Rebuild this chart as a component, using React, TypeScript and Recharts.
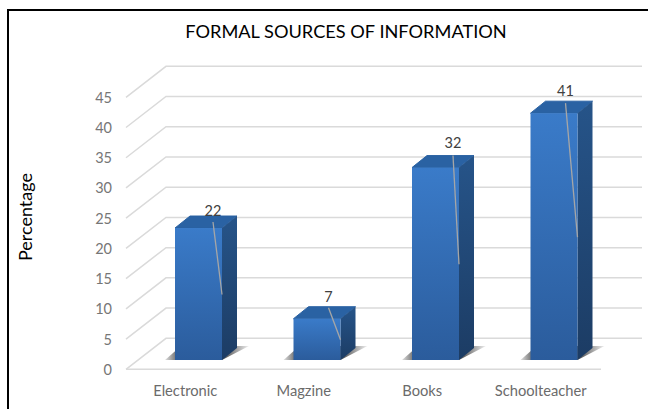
import { BarChart, Bar, XAxis, YAxis, CartesianGrid, LabelList } from 'recharts';

const categories = ['Electronic', 'Magzine', 'Books', 'Schoolteacher'];
const percentages = [22, 7, 32, 41];
const yTicks = [0, 5, 10, 15, 20, 25, 30, 35, 40, 45];

const chartData = categories.map((name, i) => ({ name, value: percentages[i] }));

const FONT = 'Lato, "Open Sans", sans-serif';
const DEPTH_X = 15;
const DEPTH_Y = 12;
// hand placed data labels, relative to the bar's top left corner
const LABEL_X = [38, 35, 41, 35];
const LABEL_Y = [-18, -22, -25, -23];
const LEADER_Y = [-6, -11, -12, -10];

function GridLine({ y1, x1, x2 }: any) {
  // wall line plus the slanted piece along the side wall
  const front = y1 + 8.3;
  const back = y1 - 22.7;
  return (
    <g>
      <path d={`M${x1 - 13} ${front} L${x1 + 27} ${back} L${x2 + 29} ${back}`} fill="none" stroke="#dadada" strokeWidth={1.5} />
      {y1 > 350 && <path d={`M${x1 - 13} ${front} L${x2 - 12} ${front}`} fill="none" stroke="#dadada" strokeWidth={1.5} />}
    </g>
  );
}

function Bar3D({ x, y, width, height }: any) {
  const r = x + width;
  const b = y + height - 1;
  return (
    <g>
      <polygon
        points={`${x - 10},${b} ${x + 6},${b - 14} ${r + 27},${b - 14} ${r},${b}`}
        fill="url(#floorShadow)"
      />
      <polygon
        points={`${x},${y} ${x + DEPTH_X},${y - DEPTH_Y} ${r + DEPTH_X},${y - DEPTH_Y} ${r},${y}`}
        fill="#2a62a3"
        stroke="#2a62a3"
        strokeLinejoin="round"
      />
      <polygon
        points={`${r},${y} ${r + DEPTH_X},${y - DEPTH_Y} ${r + DEPTH_X},${b - DEPTH_Y} ${r},${b}`}
        fill="url(#sideFill)"
      />
      <rect x={x} y={y} width={width} height={b - y} fill="url(#frontFill)" />
    </g>
  );
}

function ValueLabel({ x, y, width, height, value, index }: any) {
  const lx = x + LABEL_X[index];
  return (
    <g>
      <line x1={lx} y1={y + LEADER_Y[index]} x2={x + width} y2={y + height / 2} stroke="#a6a6a6" strokeWidth={1.3} />
      <text x={lx} y={y + LABEL_Y[index]} textAnchor="middle" dominantBaseline="central" fontSize={14.5} fontFamily={FONT} fill="#404040">
        {value}
      </text>
    </g>
  );
}

function YTick({ y, payload }: any) {
  return (
    <text x={112} y={y + 8.3} textAnchor="end" dominantBaseline="central" fontSize={14.5} fontFamily={FONT} fill="#767676">
      {payload.value}
    </text>
  );
}

function XTick({ x, payload }: any) {
  return (
    <text x={x - 13} y={390} textAnchor="middle" dominantBaseline="central" fontSize={14.7} fontFamily={FONT} fill="#6b6b6b">
      {payload.value}
    </text>
  );
}

export default function App() {
  return (
    <div style={{ position: 'absolute', left: 0, top: 0, width: 648, height: 409, background: '#fff', overflow: 'hidden' }}>
      <div style={{ position: 'absolute', left: 7, top: 9, right: 0, bottom: 0, borderLeft: '2px solid #000', borderTop: '2px solid #000' }} />
      <div style={{ position: 'absolute', left: 0, top: 0 }}>
        <BarChart width={648} height={409} data={chartData} margin={{ top: 89, right: 35, bottom: 0, left: 0 }}>
          <defs>
            <linearGradient id="frontFill" x1="0" y1="0" x2="0" y2="1">
              <stop offset="0%" stopColor="#3a7bc9" />
              <stop offset="100%" stopColor="#2b5c9c" />
            </linearGradient>
            <linearGradient id="sideFill" x1="0" y1="0" x2="0" y2="1">
              <stop offset="0%" stopColor="#265489" />
              <stop offset="100%" stopColor="#1c3c64" />
            </linearGradient>
            <linearGradient id="floorShadow" x1="0" y1="0" x2="1" y2="0">
              <stop offset="0%" stopColor="#e0e0e0" />
              <stop offset="14%" stopColor="#6e6e6e" />
              <stop offset="72%" stopColor="#5c5c5c" />
              <stop offset="100%" stopColor="#f0f0f0" />
            </linearGradient>
          </defs>
          <text x={346} y={31} textAnchor="middle" dominantBaseline="central" fontSize={18.2} fontFamily={FONT} fill="#000">
            FORMAL SOURCES OF INFORMATION
          </text>
          <text x={25} y={217} transform="rotate(-90 25 217)" textAnchor="middle" dominantBaseline="central" fontSize={18} fontFamily={FONT} fill="#000">
            Percentage
          </text>
          <CartesianGrid vertical={false} horizontal={(p: any) => <GridLine key={p.key} {...p} />} />
          <XAxis dataKey="name" height={48} axisLine={false} tickLine={false} interval={0} tick={(p: any) => <XTick {...p} />} />
          <YAxis width={139} domain={[0, 45]} ticks={yTicks} axisLine={false} tickLine={false} tick={(p: any) => <YTick {...p} />} />
          <Bar dataKey="value" barSize={47} shape={(p: any) => <Bar3D {...p} />} isAnimationActive={false}>
            <LabelList dataKey="value" content={(p: any) => <ValueLabel {...p} />} />
          </Bar>
        </BarChart>
      </div>
    </div>
  );
}
